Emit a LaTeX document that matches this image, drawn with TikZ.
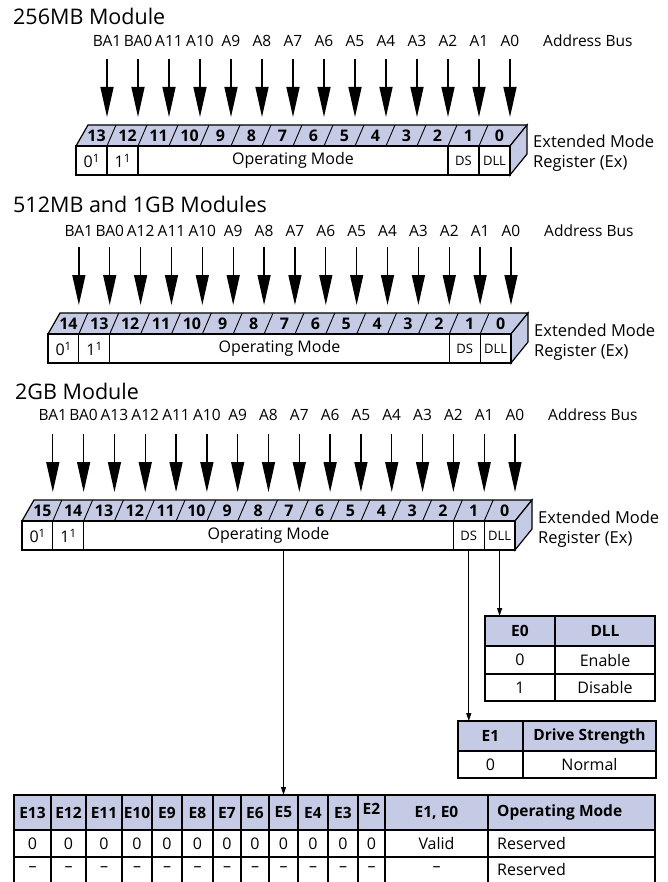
\documentclass[tikz,border=0pt]{standalone}
\usepackage{fontspec}
\setmainfont{Open Sans}
\usetikzlibrary{arrows.meta}
\definecolor{regblue}{RGB}{197,203,228}
\newcommand{\supone}{\raisebox{5pt}{\fontsize{11.5}{12}\selectfont 1}}
\tikzset{
  regface/.style={fill=regblue, draw=black, line width=1.2pt, line join=miter},
  slashline/.style={line width=0.9pt},
  bitnum/.style={font=\bfseries\fontsize{16}{16}\selectfont, inner sep=0pt},
  cellbox/.style={draw, line width=1.2pt, fill=white, inner sep=0pt, outer sep=0pt, font=\fontsize{16}{16}\selectfont},
  smallcell/.style={cellbox, font=\fontsize{13}{13}\selectfont},
  addr/.style={anchor=base, inner sep=0pt, font=\fontsize{15.5}{16}\selectfont},
  sidetext/.style={anchor=base west, inner sep=0pt, font=\fontsize{16.5}{17}\selectfont},
  titletext/.style={anchor=base west, inner sep=0pt, font=\fontsize{21.5}{22}\selectfont},
  busarrow/.style={line width=1.3pt, -{Triangle[length=30pt,width=13pt]}},
  smallarrow/.style={line width=1pt, -{Triangle[length=8pt,width=5pt]}},
  hcell/.style={draw, line width=1.1pt, fill=regblue, inner sep=0pt, outer sep=0pt, font=\bfseries\fontsize{15.5}{16}\selectfont},
  bcell/.style={draw, line width=1.1pt, fill=white, inner sep=0pt, outer sep=0pt, font=\fontsize{16}{16}\selectfont},
  tabtext/.style={inner sep=0pt, font=\fontsize{16}{16}\selectfont},
}
% #1 prefix, #2 N bits, #3 x0, #4 x1, #5 y top, #6 label baseline, #7 labels
\newcommand{\regsec}[7]{%
  \pgfmathsetmacro{\rw}{(#4-#3)/#2}%
  \pgfmathsetmacro{\yf}{#5+21}%
  \pgfmathsetmacro{\yb}{#5+50}%
  \pgfmathsetmacro{\ym}{#5+11}%
  \pgfmathtruncatemacro{\nm}{#2-1}%
  \pgfmathsetmacro{\opw}{(#2-4)*\rw}%
  % top and side faces
  \filldraw[regface] (#3,\yf) -- (#3+12,#5) -- (#4+17,#5) -- (#4,\yf) -- cycle;
  \filldraw[regface] (#4,\yf) -- (#4+17,#5) -- (#4+17,#5+29) -- (#4,\yb) -- cycle;
  \foreach \j in {1,...,\nm}{\draw[slashline] (#3+\j*\rw,\yf) -- (#3+\j*\rw+9,#5);}
  \foreach \j in {0,...,\nm}{%
    \pgfmathtruncatemacro{\bn}{\nm-\j}%
    \node[bitnum] (#1n\j) at (#3+\j*\rw+\rw/2+5,\ym) {\bn};}
  % front cells
  \node[cellbox, minimum width=\rw pt, minimum height=29pt] (#1z) at (#3+\rw/2,\yf+14.5) {0\supone};
  \node[cellbox, minimum width=\rw pt, minimum height=29pt] (#1o) at (#3+1.5*\rw,\yf+14.5) {1\supone};
  \node[cellbox, minimum width=\opw pt, minimum height=29pt] (#1op) at (#3+2*\rw+\opw/2,\yf+14.5) {Operating Mode};
  \node[smallcell, minimum width=\rw pt, minimum height=29pt] (#1ds) at (#4-1.5*\rw,\yf+14.5) {DS};
  \node[smallcell, minimum width=\rw pt, minimum height=29pt] (#1dll) at (#4-0.5*\rw,\yf+14.5) {DLL};
  % address bus
  \foreach \lab [count=\c] in {#7}{%
    \node[addr] (#1l\c) at (#3+\c*\rw,#6) {\lab};
    \coordinate (#1s\c) at (#3+\c*\rw,#5-66);
    \coordinate (#1t\c) at (#3+\c*\rw,#5-8);
    \draw[busarrow] (#1s\c) -- (#1t\c);}
  \node[addr, anchor=base west] (#1bus) at (#4+33,#6) {Address Bus};
  \node[sidetext] (#1ext) at (#4+23,#5+23) {Extended Mode};
  \node[sidetext] (#1reg) at (#4+23,#5+43) {Register (Ex)};
}
\begin{document}
\begin{tikzpicture}[x=1pt,y=-1pt]
\useasboundingbox (0,0) rectangle (668,882);
\fill[white] (0,0) rectangle (668,882);

\node[titletext] (t1) at (13,25) {256MB Module};
\regsec{sa}{14}{76}{510}{125}{47}{BA1,BA0,A11,A10,A9,A8,A7,A6,A5,A4,A3,A2,A1,A0}

\node[titletext] (t2) at (13,213) {512MB and 1GB Modules};
\regsec{sb}{15}{48}{511}{313}{237}{BA1,BA0,A12,A11,A10,A9,A8,A7,A6,A5,A4,A3,A2,A1,A0}

\node[titletext] (t3) at (15,399) {2GB Module};
\regsec{sc}{16}{22}{515}{500}{420}{BA1,BA0,A13,A12,A11,A10,A9,A8,A7,A6,A5,A4,A3,A2,A1,A0}

% E0 / DLL table
\node[hcell, minimum width=70pt, minimum height=30pt] (e0h) at (520,631) {E0};
\node[hcell, minimum width=100pt, minimum height=30pt] (dllh) at (605,631) {DLL};
\node[bcell, minimum width=70pt, minimum height=28pt] (e0a) at (520,660) {0};
\node[bcell, minimum width=100pt, minimum height=28pt] (e0b) at (605,660) {Enable};
\node[bcell, minimum width=70pt, minimum height=27pt] (e0c) at (520,687.5) {1};
\node[bcell, minimum width=100pt, minimum height=27pt] (e0d) at (605,687.5) {Disable};

% E1 / Drive strength table
\node[hcell, minimum width=65pt, minimum height=30pt] (e1h) at (490.5,736) {E1};
\node[hcell, minimum width=133pt, minimum height=30pt] (dsh) at (589.5,736) {Drive Strength};
\node[bcell, minimum width=65pt, minimum height=27pt] (e1a) at (490.5,764.5) {0};
\node[bcell, minimum width=133pt, minimum height=27pt] (e1b) at (589.5,764.5) {Normal};

% Operating mode table
\fill[regblue] (14,795) rectangle (655,830);
\foreach \xa/\xb/\t/\yy [count=\k] in {14/51/E13/812.5,51/86/E12/812.5,86/122/E11/812.5,122/152/E10/812.5,152/182/E9/812.5,182/213/E8/812.5,213/241/E7/812.5,241/269/E6/812.5,269/298/E5/812.5,298/328/E4/812.5,328/358/E3/812.5,358/385/E2/808.5,385/488/{E1, E0}/812.5}{%
  \node[hcell, fill=none, draw=none, minimum width=\xb pt-\xa pt, minimum height=35pt] (oh\k) at ({(\xa+\xb)/2},812.5) {};
  \node[tabtext, font=\bfseries\fontsize{15.5}{16}\selectfont] (oht\k) at ({(\xa+\xb)/2},\yy) {\t};
}
\node[tabtext, font=\bfseries\fontsize{15.5}{16}\selectfont, anchor=west] (ohop) at (497,812.5) {Operating Mode};
\draw[line width=1.1pt] (14,882) -- (14,795) -- (655,795) -- (655,882);
\draw[line width=1.1pt] (14,830) -- (655,830);
\draw[line width=1.1pt] (14,857) -- (655,857);
\foreach \xv in {51,86,122,152,182,213,241,269,298,328,358,385,488}{\draw[line width=1.1pt] (\xv,795) -- (\xv,882);}
\foreach \xa/\xb [count=\k] in {14/51,51/86,86/122,122/152,152/182,182/213,213/241,241/269,269/298,298/328,328/358,358/385}{%
  \node[tabtext] (ra\k) at ({(\xa+\xb)/2},843.5) {0};
  \node[tabtext] (rb\k) at ({(\xa+\xb)/2},869.5) {–};
}
\node[tabtext] (rav) at (436.5,843.5) {Valid};
\node[tabtext] (rbv) at (436.5,869.5) {–};
\node[tabtext, anchor=west] (rar) at (497,843.5) {Reserved};
\node[tabtext, anchor=west] (rbr) at (497,869.5) {Reserved};

% connectors from 2GB register
\draw[smallarrow] (scop.south -| oh9.north) -- (oh9.north);
\draw[smallarrow] (scds.south) -- (scds.south |- e1h.north);
\draw[smallarrow] (scdll.south) -- (scdll.south |- e0h.north);
\end{tikzpicture}
\end{document}
